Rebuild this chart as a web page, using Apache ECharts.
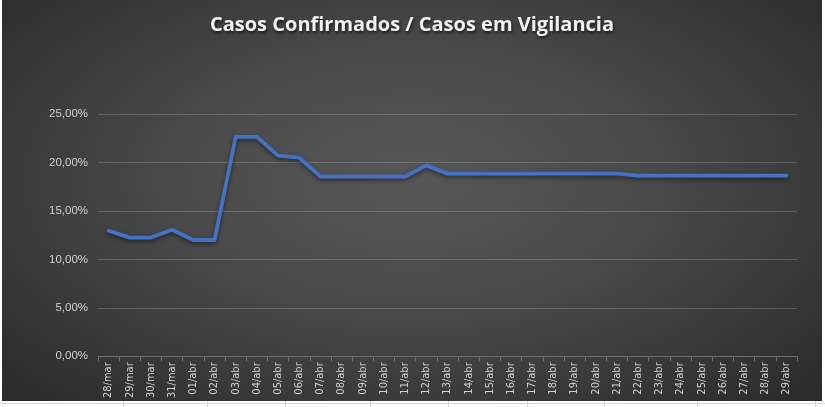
<!DOCTYPE html>
<html>
<head>
<meta charset="utf-8">
<script src="https://cdn.jsdelivr.net/npm/echarts@6/dist/echarts.min.js"></script>
<style>
  html, body { margin: 0; padding: 0; background: #ffffff; width: 825px; height: 407px; overflow: hidden; }
  #wrap { position: absolute; left: 2px; top: 0; width: 820px; height: 401px;
    background: radial-gradient(ellipse at 50% 45%, #575757 0%, #4a4a4a 40%, #2a2a2a 100%); }
  #chart { position: absolute; left: 0; top: 0; width: 820px; height: 401px; }
  .hl { position: absolute; height: 1px; background: #d4d4d4; }
  .vl { position: absolute; width: 1px; background: #d4d4d4; }
</style>
</head>
<body>
<div class="hl" style="left:0;top:403px;width:825px"></div>
<div class="vl" style="left:123px;top:401px;height:6px"></div>
<div class="vl" style="left:207px;top:401px;height:6px"></div>
<div class="vl" style="left:285px;top:401px;height:6px"></div>
<div class="vl" style="left:370px;top:401px;height:6px"></div>
<div class="vl" style="left:448px;top:401px;height:6px"></div>
<div class="vl" style="left:527px;top:401px;height:6px"></div>
<div class="vl" style="left:604px;top:401px;height:6px"></div>
<div class="vl" style="left:697px;top:401px;height:6px"></div>
<div class="vl" style="left:815px;top:0;height:407px"></div>
<div id="wrap"><div id="chart"></div></div>
<script>
const title = 'Casos Confirmados / Casos em Vigilancia';
const categories = ['28/mar','29/mar','30/mar','31/mar','01/abr','02/abr','03/abr','04/abr','05/abr','06/abr',
  '07/abr','08/abr','09/abr','10/abr','11/abr','12/abr','13/abr','14/abr','15/abr','16/abr','17/abr','18/abr',
  '19/abr','20/abr','21/abr','22/abr','23/abr','24/abr','25/abr','26/abr','27/abr','28/abr','29/abr'];
const ratioPct = [12.95, 12.25, 12.25, 13.05, 12.0, 12.0, 22.65, 22.65, 20.7, 20.5,
  18.55, 18.55, 18.55, 18.55, 18.55, 19.7, 18.85, 18.85, 18.85, 18.85, 18.85, 18.85,
  18.85, 18.85, 18.85, 18.65, 18.65, 18.65, 18.65, 18.65, 18.65, 18.65, 18.65];
const yMin = 0, yMax = 25, yStep = 5;

const chart = echarts.init(document.getElementById('chart'), null, { renderer: 'canvas' });
chart.setOption({
  backgroundColor: 'transparent',
  animation: false,
  title: {
    text: title, left: 'center', top: 10,
    textStyle: { color: '#f2f2f2', fontSize: 20, fontWeight: 'bold', fontFamily: 'Open Sans',
      textShadowColor: 'rgba(0,0,0,0.6)', textShadowBlur: 3, textShadowOffsetX: 1, textShadowOffsetY: 2 }
  },
  grid: { left: 96, right: 25, top: 114, bottom: 43 },
  xAxis: {
    type: 'category', data: categories, boundaryGap: true,
    axisLine: { lineStyle: { color: '#6e6e6e', width: 1 } },
    axisTick: { show: true, length: 5, lineStyle: { color: '#6e6e6e' } },
    axisLabel: { rotate: 90, interval: 0, color: '#d0d0d0', fontSize: 11, fontFamily: 'DejaVu Sans Condensed, Liberation Sans Narrow, Liberation Sans', margin: 6 }
  },
  yAxis: {
    type: 'value', min: yMin, max: yMax, interval: yStep,
    axisLine: { show: false }, axisTick: { show: false },
    splitLine: { lineStyle: { color: 'rgba(255,255,255,0.17)', width: 1 } },
    axisLabel: { color: '#d0d0d0', fontSize: 11.5, fontFamily: 'Liberation Sans', margin: 10,
      formatter: v => v.toFixed(2).replace('.', ',') + '%' }
  },
  series: [{
    type: 'line', data: ratioPct, symbol: 'none',
    lineStyle: { color: '#4472C4', width: 3.8, shadowColor: 'rgba(0,0,0,0.5)', shadowBlur: 4, shadowOffsetY: 2, cap: 'round', join: 'round' }
  }]
});
</script>
</body>
</html>
